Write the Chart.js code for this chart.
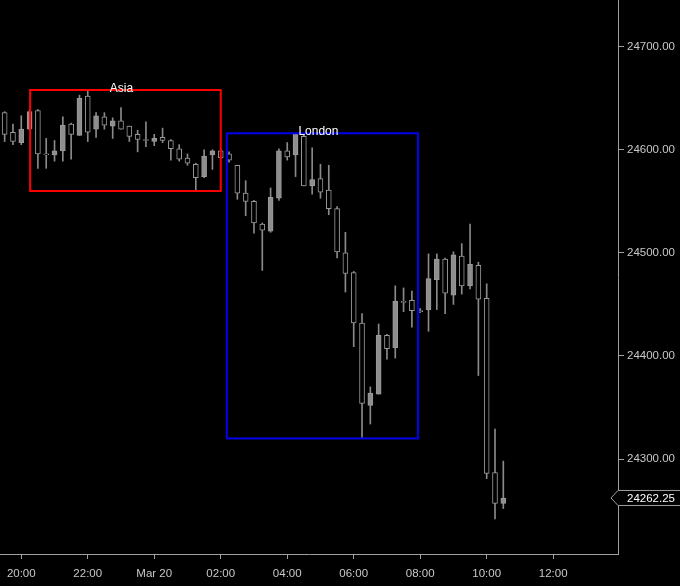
<!DOCTYPE html>
<html>
<head>
<meta charset="utf-8">
<script src="https://cdn.jsdelivr.net/npm/chart.js@4.4.1/dist/chart.umd.min.js"></script>
<style>
  html, body { margin: 0; padding: 0; background: #000; }
  #wrap { width: 680px; height: 586px; }
</style>
</head>
<body>
<div id="wrap"><canvas id="chart" width="680" height="586"></canvas></div>
<script>
// 15 minute candles, Mar 19 19:30 -> Mar 20 10:30
const times = [
  '19:30','19:45','20:00','20:15','20:30','20:45','21:00','21:15','21:30','21:45',
  '22:00','22:15','22:30','22:45','23:00','23:15','23:30','23:45','00:00','00:15',
  '00:30','00:45','01:00','01:15','01:30','01:45','02:00','02:15','02:30','02:45',
  '03:00','03:15','03:30','03:45','04:00','04:15','04:30','04:45','05:00','05:15',
  '05:30','05:45','06:00','06:15','06:30','06:45','07:00','07:15','07:30','07:45',
  '08:00','08:15','08:30','08:45','09:00','09:15','09:30','09:45','10:00','10:15',
  '10:30'
];
const opens = [
  24636, 24617, 24607, 24620, 24638, 24596, 24595, 24599, 24625, 24614,
  24652, 24620, 24632, 24623, 24628, 24623, 24615, 24610, 24608, 24612,
  24609, 24601, 24592, 24586, 24574, 24595, 24599, 24596, 24585, 24558,
  24550, 24528, 24521, 24553, 24599, 24595, 24613, 24565, 24572, 24561,
  24543, 24500, 24481, 24432, 24352, 24363, 24420, 24408, 24453, 24454,
  24444, 24445, 24474, 24494, 24459, 24497, 24468, 24488, 24456, 24287,
  24257
];
const highs = [
  24637, 24625, 24633, 24639, 24639, 24611, 24609, 24632, 24626, 24653,
  24658, 24636, 24636, 24631, 24641, 24623, 24619, 24627, 24615, 24621,
  24610, 24605, 24596, 24587, 24600, 24600, 24600, 24598, 24585, 24570,
  24551, 24529, 24563, 24601, 24607, 24616, 24614, 24602, 24586, 24585,
  24545, 24520, 24482, 24441, 24370, 24431, 24421, 24468, 24466, 24463,
  24446, 24499, 24499, 24495, 24501, 24509, 24528, 24491, 24470, 24329,
  24298
];
const lows = [
  24608, 24605, 24605, 24619, 24582, 24582, 24589, 24589, 24591, 24614,
  24608, 24612, 24620, 24611, 24620, 24608, 24598, 24603, 24604, 24607,
  24590, 24589, 24585, 24560, 24573, 24581, 24592, 24588, 24552, 24536,
  24519, 24483, 24520, 24551, 24590, 24574, 24565, 24557, 24553, 24537,
  24495, 24462, 24409, 24320, 24334, 24363, 24397, 24398, 24443, 24428,
  24442, 24424, 24445, 24441, 24450, 24460, 24465, 24381, 24281, 24242,
  24252
];
const closes = [
  24615, 24608, 24620, 24637, 24596, 24595, 24599, 24624, 24615, 24650,
  24617, 24633, 24624, 24628, 24620, 24613, 24610, 24609, 24611, 24609,
  24601, 24591, 24587, 24573, 24594, 24599, 24592, 24590, 24558, 24550,
  24529, 24522, 24554, 24599, 24593, 24615, 24565, 24571, 24559, 24543,
  24501, 24480, 24432, 24354, 24364, 24420, 24407, 24453, 24452, 24444,
  24443, 24475, 24494, 24461, 24498, 24468, 24489, 24455, 24286, 24257,
  24262.25
];
const lastPrice = 24262.25;

const xTickHours = [20, 22, 24, 26, 28, 30, 32, 34, 36];
const xTickLabels = ['20:00', '22:00', 'Mar 20', '02:00', '04:00', '06:00', '08:00', '10:00', '12:00'];
const yTicks = [24300, 24400, 24500, 24600, 24700];

const sessionNames = ['Asia', 'London'];
const sessionStart = ['20:16', '02:11'];
const sessionEnd = ['02:00', '07:56'];
const sessionColors = ['#ff0000', '#0000ee'];

// hours counted from Mar 19 00:00
function hourOf(t) {
  const [h, m] = t.split(':').map(Number);
  return (h < 18 ? h + 24 : h) + m / 60;
}

const xs = times.map(hourOf);
const wickData = xs.map((x, i) => ({ x: x, y: [lows[i], highs[i]] }));
const bodyData = xs.map((x, i) => ({ x: x, y: [opens[i], closes[i]] }));
const bodyFill = closes.map((c, i) => c > opens[i] ? '#8e8e8e' : '#000000');

const sessionPlugin = {
  id: 'sessions',
  afterDatasetsDraw(chart) {
    const ctx = chart.ctx;
    const xS = chart.scales.x, yS = chart.scales.y;
    sessionNames.forEach((name, s) => {
      const t0 = hourOf(sessionStart[s]), t1 = hourOf(sessionEnd[s]);
      const idx = xs.map((x, i) => i).filter(i => xs[i] >= t0 && xs[i] <= t1);
      const hi = Math.max(...idx.map(i => highs[i]));
      const lo = Math.min(...idx.map(i => lows[i]));
      const x1 = xS.getPixelForValue(t0);
      const x2 = xS.getPixelForValue(t1);
      const y1 = yS.getPixelForValue(hi);
      const y2 = yS.getPixelForValue(lo);
      ctx.save();
      ctx.strokeStyle = sessionColors[s];
      ctx.lineWidth = 2;
      ctx.strokeRect(x1, y1, x2 - x1, y2 - y1);
      ctx.fillStyle = '#ffffff';
      ctx.font = '12px "Liberation Sans", Arial, sans-serif';
      ctx.textAlign = 'center';
      ctx.textBaseline = 'alphabetic';
      ctx.fillText(name, (x1 + x2) / 2 - 4, y1 + 2);
      ctx.restore();
    });
  },
  afterDraw(chart) {
    const ctx = chart.ctx;
    const yS = chart.scales.y;
    const left = chart.chartArea.right;
    const y = yS.getPixelForValue(lastPrice);
    ctx.save();
    ctx.beginPath();
    ctx.moveTo(left - 7, y);
    ctx.lineTo(left, y - 7.5);
    ctx.lineTo(chart.width + 2, y - 7.5);
    ctx.lineTo(chart.width + 2, y + 7.5);
    ctx.lineTo(left, y + 7.5);
    ctx.closePath();
    ctx.fillStyle = '#000';
    ctx.fill();
    ctx.strokeStyle = '#a0a0a0';
    ctx.lineWidth = 1;
    ctx.stroke();
    ctx.fillStyle = '#ffffff';
    ctx.font = '11.5px "Liberation Sans", Arial, sans-serif';
    ctx.textAlign = 'left';
    ctx.textBaseline = 'middle';
    ctx.fillText(lastPrice.toFixed(2), left + 9, y + 1);
    ctx.restore();
  }
};

new Chart(document.getElementById('chart'), {
  type: 'bar',
  data: {
    datasets: [
      {
        label: 'wick',
        data: wickData,
        backgroundColor: '#8a8a8a',
        barThickness: 1,
        grouped: false,
        order: 2
      },
      {
        label: 'body',
        data: bodyData,
        backgroundColor: bodyFill,
        borderColor: '#9a9a9a',
        borderWidth: 1,
        borderSkipped: false,
        barThickness: 5,
        minBarLength: 1,
        grouped: false,
        order: 1
      }
    ]
  },
  options: {
    responsive: false,
    animation: false,
    layout: { padding: 0 },
    plugins: {
      legend: { display: false },
      tooltip: { enabled: false }
    },
    scales: {
      x: {
        type: 'linear',
        min: 19.36,
        max: 37.95,
        offset: false,
        afterBuildTicks: s => { s.ticks = xTickHours.map(v => ({ value: v })); },
        afterFit: s => { s.height = 32; s.paddingLeft = 0; s.paddingRight = 0; },
        ticks: {
          color: '#c8c8c8',
          font: { family: '"Liberation Sans", Arial, sans-serif', size: 11.5 },
          padding: 8,
          maxRotation: 0,
          callback: v => xTickLabels[xTickHours.indexOf(v)]
        },
        grid: { drawOnChartArea: false, offset: false, tickLength: 5, color: '#a0a0a0' },
        border: { color: '#a0a0a0' }
      },
      y: {
        position: 'right',
        min: 24207.9,
        max: 24745.3,
        afterBuildTicks: s => { s.ticks = yTicks.map(v => ({ value: v })); },
        afterFit: s => { s.width = 62; s.paddingTop = 0; s.paddingBottom = 0; },
        ticks: {
          color: '#c8c8c8',
          font: { family: '"Liberation Sans", Arial, sans-serif', size: 11.5 },
          padding: 3,
          callback: v => v.toFixed(2)
        },
        grid: { drawOnChartArea: false, tickLength: 6, color: '#a0a0a0' },
        border: { color: '#a0a0a0' }
      }
    }
  },
  plugins: [sessionPlugin]
});
</script>
</body>
</html>
